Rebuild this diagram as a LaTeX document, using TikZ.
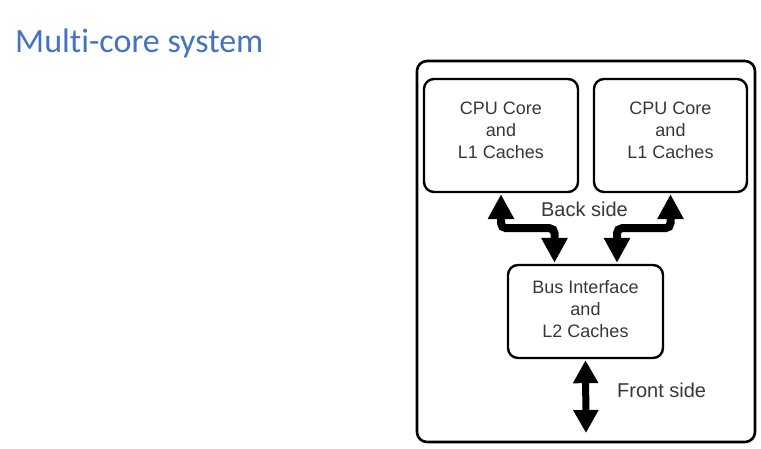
\documentclass[tikz,border=0pt]{standalone}
\usepackage{fontspec}
\setmainfont{Liberation Sans}
\newfontfamily\titlefont[Ligatures=NoCommon]{Carlito}
\usetikzlibrary{arrows.meta}
\definecolor{titleblue}{RGB}{68,114,196}
\definecolor{txtgray}{RGB}{55,55,55}
\begin{document}
\begin{tikzpicture}[x=1pt,y=-1pt,
  unitbox/.style={draw=black,line width=2.4pt,rounded corners=10pt,inner sep=0pt},
  boxtext/.style={align=center,text=txtgray,font=\fontsize{18}{22}\selectfont,inner sep=0pt},
  sidelabel/.style={text=txtgray,font=\fontsize{20}{24}\selectfont,inner sep=0pt},
  busarrow/.style={line width=8pt,rounded corners=5pt,
    {Triangle[width=25pt,length=25pt]}-{Triangle[width=25pt,length=25pt]}}]
\useasboundingbox (0,0) rectangle (761,449);
\node[anchor=base west,text=titleblue,font=\titlefont\fontsize{34}{40}\selectfont,inner sep=0pt] (title) at (15,53) {Multi-core system};
\node[unitbox,minimum width=338pt,minimum height=381pt,line width=2.6pt] (outer) at (586,251.5) {};
\node[unitbox,minimum width=154pt,minimum height=113pt] (cpu1) at (501,135.5) {};
\node[unitbox,minimum width=153pt,minimum height=113pt] (cpu2) at (670.5,135.5) {};
\node[unitbox,minimum width=155pt,minimum height=93pt] (bus) at (585.5,311.5) {};
\node[boxtext] (cpu1t) at (501,130) {CPU Core\\and\\L1 Caches};
\node[boxtext] (cpu2t) at (670.5,130) {CPU Core\\and\\L1 Caches};
\node[boxtext] (bust) at (585.5,309.5) {Bus Interface\\and\\L2 Caches};
\node[sidelabel,anchor=base] (back) at (584.5,217) {Back side};
\node[sidelabel,anchor=base west] (front) at (617,397) {Front side};
\coordinate (fsend) at (586,433);
\draw[busarrow] ([yshift=-1pt]cpu1.south) -- ++(0,34) -| ([xshift=-31pt,yshift=1pt]bus.north);
\draw[busarrow] ([yshift=-1pt]cpu2.south) -- ++(0,34) -| ([xshift=31.5pt,yshift=1pt]bus.north);
\draw[line width=7pt,{Triangle[width=24pt,length=23pt]}-{Triangle[width=24pt,length=23pt]}] ([yshift=-1pt]bus.south) -- (fsend);
\end{tikzpicture}
\end{document}
